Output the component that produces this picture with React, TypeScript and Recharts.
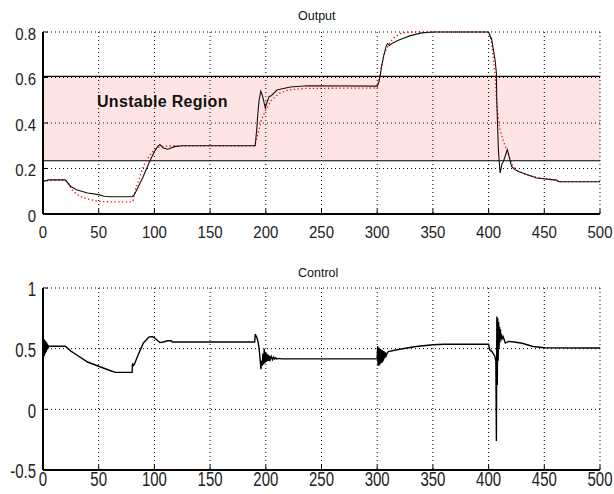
import React from "react";
import {
  LineChart,
  Line,
  XAxis,
  YAxis,
  CartesianGrid,
  ReferenceArea,
  ReferenceLine,
} from "recharts";

const xTicks = [0, 50, 100, 150, 200, 250, 300, 350, 400, 450, 500];
const outputTicks = [0, 0.2, 0.4, 0.6, 0.8];
const controlTicks = [-0.5, 0, 0.5, 1];

const unstableLow = 0.234;
const unstableHigh = 0.605;

// plant output (black)
const outputT = [
  0, 5, 20, 25, 30, 40, 50, 55, 60, 80, 82, 85, 90, 95, 100, 103, 105, 108, 112, 118, 125,
  190.5, 192, 193, 194, 195.5, 197, 198, 199.5, 201, 203, 205, 210, 222, 237, 300,
  301.5, 302.6, 304, 306, 308, 309.2, 311, 314, 320, 330, 340, 350, 400,
  402.8, 405.8, 407, 407.3, 408, 408.8, 410.3, 412, 413.2, 416.8, 420.6, 423.6, 428, 443, 461, 463, 500,
];
const outputY = [
  0.143, 0.15, 0.15, 0.121, 0.107, 0.092, 0.085, 0.078, 0.076, 0.076, 0.085, 0.114, 0.165, 0.223, 0.275, 0.297, 0.305, 0.29, 0.285, 0.296, 0.3,
  0.3, 0.38, 0.45, 0.5, 0.54, 0.52, 0.5, 0.466, 0.49, 0.517, 0.52, 0.545, 0.558, 0.564, 0.562,
  0.58, 0.605, 0.649, 0.7, 0.737, 0.749, 0.741, 0.752, 0.766, 0.784, 0.796, 0.8, 0.8,
  0.766, 0.678, 0.62, 0.51, 0.4, 0.28, 0.18, 0.22, 0.23, 0.283, 0.209, 0.195, 0.185, 0.158, 0.149, 0.142, 0.142,
];

// reference model (red dotted)
const modelT = [
  0, 20, 23, 27, 33, 40, 50, 60, 80, 81, 83, 87, 90, 95, 100, 105, 115, 190, 193, 196, 200, 205, 212, 220, 235, 300,
  302, 305, 308, 312, 316, 322, 330, 400, 402, 403, 404.5, 406, 407.3, 409, 410.3, 412.7, 416.2, 422, 426.5, 434, 446, 461, 463, 500,
];
const modelY = [
  0.145, 0.15, 0.13, 0.1, 0.078, 0.066, 0.056, 0.053, 0.053, 0.062, 0.106, 0.165, 0.209, 0.253, 0.283, 0.296, 0.3, 0.3, 0.354, 0.413, 0.457, 0.5, 0.53, 0.545, 0.552, 0.554,
  0.598, 0.678, 0.722, 0.758, 0.78, 0.795, 0.8, 0.8, 0.77, 0.74, 0.67, 0.6, 0.48, 0.41, 0.37, 0.33, 0.28, 0.21, 0.188, 0.173, 0.158, 0.149, 0.142, 0.142,
];

// control signal
const controlT = [
  0, 0.4, 0.8, 1.2, 1.6, 2, 2.4, 2.8, 3.2, 3.6, 4, 4.5, 5, 20, 25, 30, 40, 50, 60, 65, 80, 80.3, 81, 82, 85, 90, 95, 98, 100, 105, 108, 112, 115, 116, 190,
  190.5, 192, 193, 194, 195, 195.6, 196.2, 196.8, 197.4, 198, 198.6, 199.2, 199.8, 200.4, 201, 201.6, 202.2, 202.8, 203.4, 204, 205, 206, 207, 208, 209, 210, 212, 214, 300,
  300.4, 300.8, 301.2, 301.6, 302, 302.4, 302.8, 303.2, 303.6, 304, 304.4, 304.8, 305.2, 305.6, 306, 306.6, 307.2, 308, 309, 310, 320, 335, 350, 360, 400,
  401, 403, 405.5, 406.5, 407, 407.4, 407.8, 408.2, 408.6, 409, 409.4, 409.8, 410.2, 410.6, 411, 411.5, 412, 413, 415, 418, 423, 430, 440, 450, 500,
];
const controlY = [
  0.6, 0.42, 0.58, 0.44, 0.57, 0.46, 0.56, 0.47, 0.55, 0.49, 0.54, 0.5, 0.52, 0.52, 0.48, 0.45, 0.39, 0.355, 0.32, 0.305, 0.305, 0.38, 0.36, 0.37, 0.44, 0.545, 0.595, 0.6, 0.59, 0.55, 0.555, 0.565, 0.566, 0.555, 0.555,
  0.62, 0.59, 0.56, 0.5, 0.4, 0.33, 0.4, 0.36, 0.46, 0.37, 0.5, 0.38, 0.47, 0.39, 0.46, 0.4, 0.45, 0.4, 0.44, 0.41, 0.435, 0.41, 0.43, 0.415, 0.425, 0.415, 0.42, 0.416, 0.416,
  0.52, 0.36, 0.51, 0.36, 0.5, 0.37, 0.5, 0.38, 0.49, 0.38, 0.49, 0.39, 0.48, 0.4, 0.48, 0.42, 0.47, 0.44, 0.465, 0.476, 0.495, 0.518, 0.532, 0.537, 0.537,
  0.49, 0.476, 0.44, 0.4, -0.26, 0.766, 0.2, 0.75, 0.4, 0.72, 0.5, 0.68, 0.55, 0.66, 0.58, 0.62, 0.58, 0.6, 0.546, 0.56, 0.555, 0.545, 0.518, 0.507, 0.505,
];

const zip = (t: number[], v: number[]) => t.map((x, i) => ({ t: x, v: v[i] }));

const FONT = "'Liberation Sans', Arial, sans-serif";

const xLabel = (sy: number) => (props: any) => (
  <text
    transform={`translate(${props.x},${props.y}) scale(1,${sy})`}
    textAnchor="middle"
    dy="0.71em"
    fontSize={15}
    fontFamily={FONT}
    fill="#222"
  >
    {props.payload.value}
  </text>
);

const yLabel = (sy: number, shift: number) => (props: any) => (
  <text
    transform={`translate(${props.x},${props.y + shift}) scale(1,${sy})`}
    textAnchor="end"
    dy="0.36em"
    fontSize={15}
    fontFamily={FONT}
    fill="#222"
  >
    {props.payload.value}
  </text>
);

const axisLine = { stroke: "#000", strokeWidth: 2 };
const tickLine = { stroke: "#000" };

function Frame({ domain, ticks, sy, xMargin, shift }: any) {
  return [
    <XAxis
      key="xb"
      dataKey="t"
      type="number"
      domain={[0, 500]}
      ticks={xTicks}
      height={xMargin[0]}
      tickSize={-5}
      tickMargin={xMargin[1]}
      axisLine={axisLine}
      tickLine={tickLine}
      tick={xLabel(sy)}
      interval={0}
    />,
    <XAxis
      key="xt"
      xAxisId="top"
      orientation="top"
      dataKey="t"
      type="number"
      domain={[0, 500]}
      ticks={xTicks}
      height={0}
      tickSize={-5}
      axisLine={axisLine}
      tickLine={tickLine}
      tick={false}
    />,
    <YAxis
      key="yl"
      type="number"
      domain={domain}
      ticks={ticks}
      width={40}
      tickSize={-5}
      tickMargin={12}
      axisLine={axisLine}
      tickLine={tickLine}
      tick={yLabel(sy, shift)}
      interval={0}
    />,
    <YAxis
      key="yr"
      yAxisId="right"
      orientation="right"
      type="number"
      domain={domain}
      ticks={ticks}
      width={0}
      tickSize={-5}
      axisLine={axisLine}
      tickLine={tickLine}
      tick={false}
    />,
  ];
}

export default function App() {
  const outputData = zip(outputT, outputY);
  const modelData = zip(modelT, modelY);
  const controlData = zip(controlT, controlY);

  return (
    <div style={{ position: "absolute", left: 0, top: 0, width: 614, height: 494, background: "#fff" }}>
      <div style={{ position: "absolute", left: 0, top: 0 }}>
        <LineChart width={614} height={250} margin={{ top: 32, right: 14, bottom: 6, left: 3 }}>
          {Frame({ domain: [0, 0.8], ticks: outputTicks, sy: 1.1, xMargin: [30, 17], shift: 2 })}
          <ReferenceArea y1={unstableLow} y2={unstableHigh} fill="#ff0000" fillOpacity={0.105} stroke="none" />
          <CartesianGrid stroke="#000" strokeDasharray="1 3" />
          <ReferenceLine y={unstableHigh} stroke="#000" strokeWidth={1.2} />
          <ReferenceLine y={unstableLow} stroke="#000" strokeWidth={1.2} />
          <Line
            data={modelData}
            dataKey="v"
            type="linear"
            stroke="#ff0000"
            strokeWidth={1.3}
            strokeDasharray="1.3 2.5"
            dot={false}
            isAnimationActive={false}
          />
          <Line
            data={outputData}
            dataKey="v"
            type="linear"
            stroke="#111"
            strokeWidth={1.1}
            dot={false}
            isAnimationActive={false}
          />
        </LineChart>
      </div>
      <div style={{ position: "absolute", left: 0, top: 250 }}>
        <LineChart width={614} height={244} margin={{ top: 38, right: 14, bottom: 4, left: 3 }}>
          {Frame({ domain: [-0.5, 1], ticks: controlTicks, sy: 1.35, xMargin: [20, 7], shift: 1 })}
          <CartesianGrid stroke="#000" strokeDasharray="1 3" />
          <Line
            data={controlData}
            dataKey="v"
            type="linear"
            stroke="#000"
            strokeWidth={1.4}
            dot={false}
            isAnimationActive={false}
          />
        </LineChart>
      </div>
      <div
        style={{ position: "absolute", left: 298, top: 10, fontFamily: FONT, fontSize: 12.5, lineHeight: "12px", color: "#111" }}
      >
        Output
      </div>
      <div
        style={{ position: "absolute", left: 298, top: 266.5, fontFamily: FONT, fontSize: 12.5, lineHeight: "12px", color: "#111" }}
      >
        Control
      </div>
      <div
        style={{
          position: "absolute",
          left: 97,
          top: 93.7,
          fontFamily: FONT,
          fontSize: 16,
          fontWeight: "bold",
          letterSpacing: 0.3,
          lineHeight: "16px",
          color: "#111",
        }}
      >
        Unstable Region
      </div>
    </div>
  );
}
